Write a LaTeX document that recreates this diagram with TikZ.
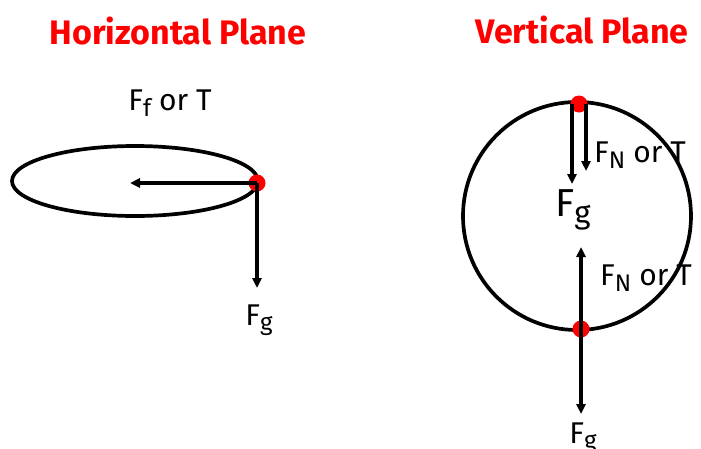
\documentclass[tikz,border=0pt]{standalone}
\usepackage{fontspec}
\setmainfont{Fira Sans}
\usetikzlibrary{arrows.meta}
\definecolor{titlered}{RGB}{255,0,0}
\tikzset{
  pathline/.style={line width=3.7pt, black},
  force/.style={line width=3.3pt, black, -{Triangle[width=9pt,length=10pt]}},
  ball/.style={circle, fill=titlered, inner sep=0pt, minimum size=17pt},
  titletext/.style={text=titlered, font=\fontsize{34}{38}\selectfont\bfseries, inner sep=0pt},
  label/.style={font=\fontsize{30}{34}\selectfont, inner sep=0pt},
  biglabel/.style={font=\fontsize{39}{44}\selectfont, inner sep=0pt},
}
\newcommand{\lowsub}[1]{\raisebox{-0.35ex}{\scalebox{0.8}{#1}}}
\begin{document}
\begin{tikzpicture}[x=1pt,y=-1pt]
\useasboundingbox (0,0) rectangle (701,448);
% titles
\node[titletext] (t1) at (178,31) {Horizontal Plane};
\node[titletext] (t2) at (582,30) {Vertical Plane};
% horizontal plane
\draw[pathline] (135,181) ellipse [x radius=123, y radius=35];
\node[ball] (b1) at (257,183) {};
\coordinate (h1) at (130,183);
\coordinate (h2) at (257,288);
\draw[force] (b1.center) -- (h1);
\draw[force] (b1.center) -- (h2);
\node[label] (l1) at (170,103) {F\lowsub{f} or T};
\node[label] (l2) at (259,320) {F\lowsub{g}};
% vertical plane
\draw[pathline] (577,216) circle [radius=114];
\node[ball] (b2) at (579,104) {};
\node[ball] (b3) at (581,329) {};
\coordinate (v1s) at (572,104);
\coordinate (v1) at (572,184);
\coordinate (v2s) at (586,104);
\coordinate (v2) at (586,171);
\draw[force] (v1s) -- (v1);
\draw[force] (v2s) -- (v2);
\coordinate (v3) at (581,247);
\coordinate (v4) at (581,414);
\draw[force] (b3.center) -- (v3);
\draw[force] (b3.center) -- (v4);
\node[label, anchor=west] (l3) at (594,155) {F\lowsub{N} or T};
\node[biglabel] (l4) at (573,210) {F\lowsub{g}};
\node[label, anchor=west] (l5) at (600,278) {F\lowsub{N} or T};
\node[label, anchor=base] (l6) at (583,443) {F\lowsub{g}};
\end{tikzpicture}
\end{document}
